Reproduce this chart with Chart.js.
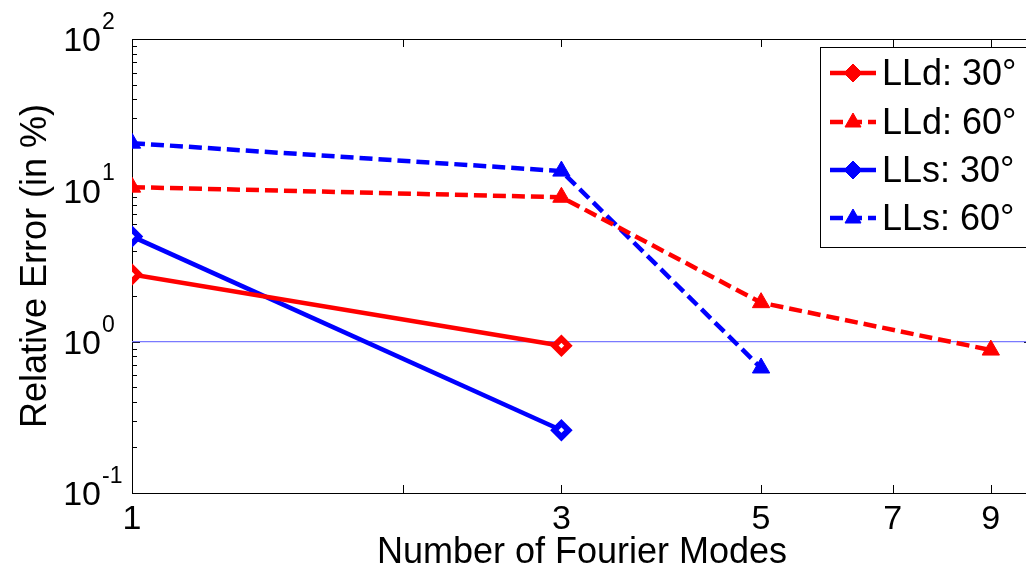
<!DOCTYPE html>
<html><head><meta charset="utf-8">
<script src="https://cdn.jsdelivr.net/npm/chart.js@4/dist/chart.umd.min.js"></script>
<style>
html,body{margin:0;padding:0;background:#fff;overflow:hidden;width:1026px;height:572px}
#wrap{width:1060px;height:572px}
</style>
</head><body>
<div id="wrap"><canvas id="c" width="1060" height="572"></canvas></div>
<script>
// values
const modes = [1, 3, 5, 9];
const lld30 = [2.78, 0.94];
const lld60 = [10.5, 9.0, 1.81, 0.88];
const lls30 = [4.96, 0.26];
const lls60 = [20.5, 13.4, 0.67];
const seriesNames = ["LLd: 30°", "LLd: 60°", "LLs: 30°", "LLs: 60°"];
const refLevel = 1;
const xRange = [1, 10];
const yRange = [0.1, 100];
const xTickVals = [1, 2, 3, 5, 7, 9];
const xTickLabels = ["1", "", "3", "5", "7", "9"];
const yMajor = [0.1, 1, 10, 100];
const yExp = ["-1", "0", "1", "2"];
const xTitle = "Number of Fourier Modes";
const yTitle = "Relative Error (in %)";

const FONT = "'Liberation Sans', Arial, sans-serif";
const RED = "#ff0000", BLUE = "#0000ff";
const pts = arr => arr.map((v, i) => ({x: modes[i], y: v}));

function series(label, data, color, dashed){
  return {label, data: pts(data), borderColor: color, backgroundColor: color, borderWidth: 4.5,
    borderDash: dashed ? [13, 6] : [], tension: 0, fill: false,
    pointStyle: dashed ? "triangle" : "rectRot", pointRadius: dashed ? 10 : 7,
    pointBackgroundColor: dashed ? color : "#fff", pointBorderColor: color,
    pointBorderWidth: dashed ? 1 : 6, pointHoverRadius: 0};
}

const frame = {
  id: "frame",
  beforeDatasetsDraw(chart){
    const {ctx, chartArea: a, scales: {x, y}} = chart;
    ctx.save();
    ctx.strokeStyle = "#000"; ctx.lineWidth = 1;
    ctx.strokeRect(a.left + 0.5, a.top + 0.5, a.right - a.left, a.bottom - a.top);
    ctx.beginPath();
    xTickVals.forEach(v => {
      const px = Math.round(x.getPixelForValue(v)) + 0.5;
      ctx.moveTo(px, a.bottom); ctx.lineTo(px, a.bottom - 8);
      ctx.moveTo(px, a.top); ctx.lineTo(px, a.top + 8);
    });
    yMajor.forEach((d, i) => {
      const py = Math.round(y.getPixelForValue(d)) + 0.5;
      ctx.moveTo(a.left, py); ctx.lineTo(a.left + 8, py);
      ctx.moveTo(a.right, py); ctx.lineTo(a.right - 8, py);
      if (i < yMajor.length - 1) for (let k = 2; k <= 9; k++) {
        const pm = Math.round(y.getPixelForValue(d * k)) + 0.5;
        ctx.moveTo(a.left, pm); ctx.lineTo(a.left + 5, pm);
        ctx.moveTo(a.right, pm); ctx.lineTo(a.right - 5, pm);
      }
    });
    ctx.stroke();
    ctx.restore();
  },
  afterDraw(chart){
    const {ctx, chartArea: a, scales: {x, y}} = chart;
    ctx.save();
    ctx.fillStyle = "#000";
    // x tick labels
    ctx.font = "34px " + FONT; ctx.textAlign = "center"; ctx.textBaseline = "top";
    xTickVals.forEach((v, i) => ctx.fillText(xTickLabels[i], x.getPixelForValue(v), a.bottom + 10));
    // y tick labels 10^n
    yMajor.forEach((d, i) => {
      const py = y.getPixelForValue(d);
      ctx.font = "34px " + FONT; ctx.textAlign = "right"; ctx.textBaseline = "middle";
      ctx.fillText("10", 101, py + 3);
      ctx.font = "23px " + FONT; ctx.textAlign = "left"; ctx.textBaseline = "alphabetic";
      ctx.fillText(yExp[i], 102, py - 10);
    });
    // axis titles
    ctx.font = "36px " + FONT; ctx.textAlign = "center"; ctx.textBaseline = "middle";
    ctx.fillText(xTitle, (a.left + a.right) / 2, 553);
    ctx.translate(36, (a.top + a.bottom) / 2);
    ctx.rotate(-Math.PI / 2);
    ctx.fillText(yTitle, 0, 0);
    ctx.restore();

    // legend box
    ctx.save();
    ctx.fillStyle = "#fff"; ctx.strokeStyle = "#000"; ctx.lineWidth = 1;
    ctx.fillRect(820, 47, 230, 200);
    ctx.strokeRect(820.5, 47.5, 230, 200);
    const rows = [73, 122, 170, 218];
    chart.data.datasets.slice(0, 4).forEach((ds, i) => {
      const yy = rows[i];
      ctx.strokeStyle = ds.borderColor; ctx.lineWidth = ds.borderWidth;
      ctx.setLineDash(ds.borderDash);
      ctx.beginPath(); ctx.moveTo(830, yy); ctx.lineTo(876, yy); ctx.stroke();
      ctx.setLineDash([]);
      ctx.strokeStyle = ds.borderColor; ctx.fillStyle = ds.borderColor; ctx.lineWidth = 1;
      ctx.beginPath();
      if (ds.pointStyle === "triangle") {
        ctx.moveTo(853, yy - 9); ctx.lineTo(861, yy + 5); ctx.lineTo(845, yy + 5);
      } else {
        ctx.moveTo(853, yy - 9); ctx.lineTo(862, yy); ctx.lineTo(853, yy + 9); ctx.lineTo(844, yy);
      }
      ctx.closePath(); ctx.fill(); ctx.stroke();
      ctx.fillStyle = "#000"; ctx.font = "36px " + FONT;
      ctx.textAlign = "left"; ctx.textBaseline = "middle";
      ctx.fillText(ds.label, 882, yy + 2);
    });
    ctx.restore();
  }
};

new Chart(document.getElementById("c"), {
  type: "line",
  data: {datasets: [
    series(seriesNames[0], lld30, RED, false),
    series(seriesNames[1], lld60, RED, true),
    series(seriesNames[2], lls30, BLUE, false),
    series(seriesNames[3], lls60, BLUE, true),
    {label: "ref", data: xRange.map(v => ({x: v, y: refLevel})), borderColor: "#7a7aff",
      borderWidth: 1.2, pointRadius: 0, pointHoverRadius: 0, tension: 0}
  ]},
  options: {
    responsive: false, animation: false, devicePixelRatio: 1,
    layout: {padding: {left: 132, top: 39, right: 28, bottom: 79}},
    plugins: {legend: {display: false}, tooltip: {enabled: false}},
    scales: {
      x: {type: "logarithmic", min: xRange[0], max: xRange[1], display: false},
      y: {type: "logarithmic", min: yRange[0], max: yRange[1], display: false}
    }
  },
  plugins: [frame]
});
</script>
</body></html>
